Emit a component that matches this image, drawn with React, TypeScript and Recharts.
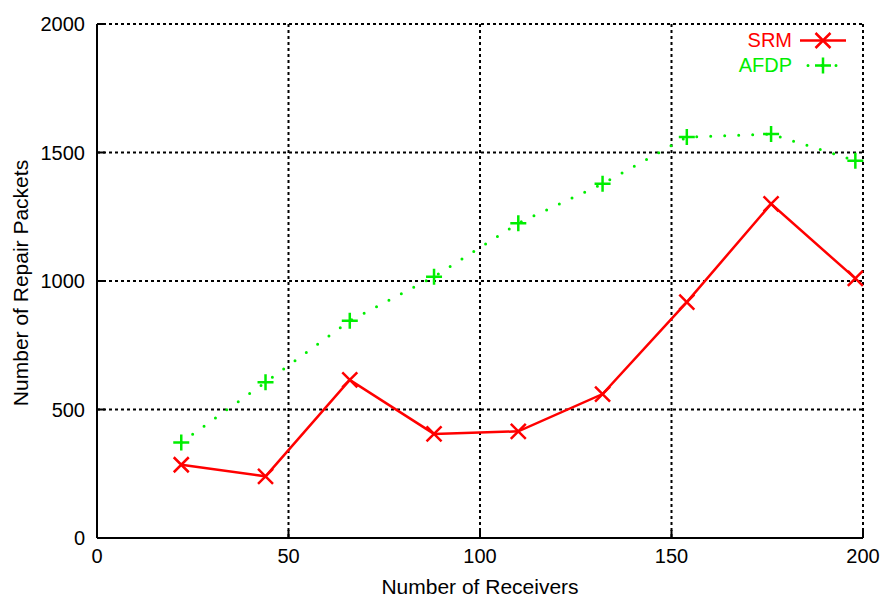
import React from "react";
import { LineChart, Line, XAxis, YAxis, CartesianGrid } from "recharts";

const receivers = [22, 44, 66, 88, 110, 132, 154, 176, 198];
const srm = [285, 240, 615, 405, 415, 560, 918, 1300, 1010];
const afdp = [372, 606, 845, 1017, 1225, 1378, 1560, 1572, 1468];
const xTicks = [0, 50, 100, 150, 200];
const yTicks = [0, 500, 1000, 1500, 2000];

const data = receivers.map((r, i) => ({ n: r, SRM: srm[i], AFDP: afdp[i] }));

const FONT = "'Liberation Sans', Arial, Helvetica, sans-serif";
const GREEN = "#00ee00";
const RED = "#ff0000";

const XTick = (p: any) => (
  <g>
    <line x1={p.x} x2={p.x} y1={p.y} y2={p.y - 8} stroke="#000" strokeWidth={2} />
    <text x={p.x} y={p.y + 25} textAnchor="middle" fontSize={20} fontFamily={FONT} fill="#000">
      {p.payload.value}
    </text>
  </g>
);

const YTick = (p: any) => (
  <g>
    <line x1={p.x} x2={p.x + 8} y1={p.y} y2={p.y} stroke="#000" strokeWidth={2} />
    <text x={p.x - 12} y={p.y + 7} textAnchor="end" fontSize={20} fontFamily={FONT} fill="#000">
      {p.payload.value}
    </text>
  </g>
);

const Blank = () => <g />;

const XTitle = () => (
  <text x={480} y={594} textAnchor="middle" fontSize={21} fontFamily={FONT} fill="#000">
    Number of Receivers
  </text>
);

const YTitle = () => (
  <text
    x={20}
    y={283}
    transform="rotate(-90 20 283)"
    textAnchor="middle"
    dominantBaseline="central"
    fontSize={21}
    fontFamily={FONT}
    fill="#000"
  >
    Number of Repair Packets
  </text>
);

const Cross = (p: any) => {
  const { cx, cy } = p;
  if (cx == null || cy == null) return <g key={p.index} />;
  const s = 7.5;
  return (
    <path
      key={p.index}
      d={`M${cx - s},${cy - s}L${cx + s},${cy + s}M${cx - s},${cy + s}L${cx + s},${cy - s}`}
      stroke={RED}
      strokeWidth={2.5}
      fill="none"
    />
  );
};

const Plus = (p: any) => {
  const { cx, cy } = p;
  if (cx == null || cy == null) return <g key={p.index} />;
  const s = 8;
  return (
    <path
      key={p.index}
      d={`M${cx - s},${cy}L${cx + s},${cy}M${cx},${cy - s}L${cx},${cy + s}`}
      stroke={GREEN}
      strokeWidth={2.5}
      fill="none"
    />
  );
};

const LegendBox = () => (
  <div
    style={{
      position: "absolute",
      top: 28,
      right: 31,
      width: 200,
      fontFamily: FONT,
      fontSize: 20,
      lineHeight: "25px",
    }}
  >
    <div style={{ display: "flex", justifyContent: "flex-end", alignItems: "center", color: RED }}>
      <span>SRM</span>
      <svg width={58} height={25} style={{ marginLeft: 4 }}>
        <line x1={4} x2={50} y1={12.5} y2={12.5} stroke={RED} strokeWidth={2.5} />
        <path d="M19.5,5L34.5,20M19.5,20L34.5,5" stroke={RED} strokeWidth={2.5} />
      </svg>
    </div>
    <div style={{ display: "flex", justifyContent: "flex-end", alignItems: "center", color: GREEN }}>
      <span>AFDP</span>
      <svg width={58} height={25} style={{ marginLeft: 4 }}>
        <line x1={12} x2={50} y1={12.5} y2={12.5} stroke={GREEN} strokeWidth={3} strokeDasharray="0 14" strokeLinecap="round" />
        <path d="M19,12.5L35,12.5M27,4.5L27,20.5" stroke={GREEN} strokeWidth={2.5} />
      </svg>
    </div>
  </div>
);

export default function App() {
  return (
    <div style={{ position: "absolute", left: 0, top: 0, width: 885, height: 599, background: "#fff" }}>
      <LineChart width={885} height={599} data={data} margin={{ top: 24, right: 22, left: 17, bottom: 21 }}>
        <CartesianGrid stroke="#000" strokeWidth={2} strokeDasharray="3 3" />
        <XAxis
          dataKey="n"
          type="number"
          domain={[0, 200]}
          ticks={xTicks}
          height={40}
          tickSize={0}
          tickMargin={0}
          tickLine={false}
          tick={XTick}
          axisLine={{ stroke: "#000", strokeWidth: 2 }}
          label={{ content: XTitle }}
        />
        <XAxis
          xAxisId="top"
          orientation="top"
          dataKey="n"
          type="number"
          domain={[0, 200]}
          ticks={xTicks}
          height={0}
          mirror
          tickSize={8}
          tick={Blank}
          tickLine={{ stroke: "#000", strokeWidth: 2 }}
          axisLine={{ stroke: "#000", strokeWidth: 2 }}
        />
        <YAxis
          type="number"
          domain={[0, 2000]}
          ticks={yTicks}
          width={80}
          tickSize={0}
          tickMargin={0}
          tickLine={false}
          tick={YTick}
          axisLine={{ stroke: "#000", strokeWidth: 2 }}
          label={{ content: YTitle }}
        />
        <YAxis
          yAxisId="right"
          orientation="right"
          type="number"
          domain={[0, 2000]}
          ticks={yTicks}
          width={0}
          mirror
          tickSize={8}
          tick={Blank}
          tickLine={{ stroke: "#000", strokeWidth: 2 }}
          axisLine={{ stroke: "#000", strokeWidth: 2 }}
        />
        <Line
          dataKey="SRM"
          stroke={RED}
          strokeWidth={2.5}
          dot={Cross}
          activeDot={false}
          isAnimationActive={false}
        />
        <Line
          dataKey="AFDP"
          stroke={GREEN}
          strokeWidth={3}
          strokeDasharray="0 14"
          strokeLinecap="round"
          dot={Plus}
          activeDot={false}
          isAnimationActive={false}
        />
      </LineChart>
      <LegendBox />
    </div>
  );
}
